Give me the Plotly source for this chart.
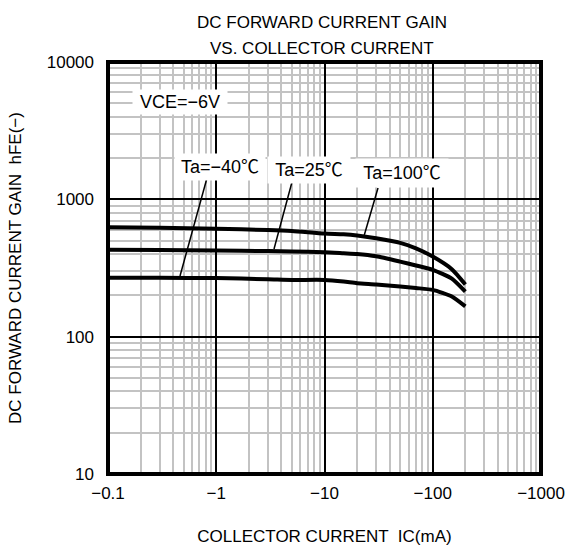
import plotly.graph_objects as go

# ---- data ----
ic_ma = [0.1, 0.3, 1, 3, 5, 10, 15, 20, 30, 50, 70, 100, 150, 200]
hfe_100 = [627, 620, 610, 598, 588, 563, 556, 545, 520, 482, 440, 383, 310, 240]
hfe_25 = [429, 427, 424, 420, 417, 412, 405, 400, 385, 352, 330, 307, 265, 213]
hfe_m40 = [269, 268, 267, 262, 259, 259, 252, 245, 240, 232, 226, 219, 196, 166]

x_tickvals = [0.1, 1, 10, 100, 1000]
x_ticktext = ["−0.1", "−1", "−10", "−100", "−1000"]
y_tickvals = [10, 100, 1000, 10000]
y_ticktext = ["10", "100", "1000", "10000"]

FONT = "Liberation Sans, Arial, Noto Sans CJK JP, sans-serif"

fig = go.Figure()
for ys in (hfe_100, hfe_25, hfe_m40):
    fig.add_trace(go.Scatter(x=ic_ma, y=ys, mode="lines",
                             line=dict(color="black", width=4, shape="spline", smoothing=0.6),
                             showlegend=False, hoverinfo="skip"))

x_minor = [m * 10 ** e for e in range(-1, 3) for m in range(2, 10)]
y_minor = [m * 10 ** e for e in range(1, 4) for m in range(2, 10)]

fig.update_xaxes(type="log", range=[-1, 3], tickvals=x_tickvals, ticktext=x_ticktext,
                 automargin=False,
                 showgrid=True, gridcolor="black", gridwidth=2,
                 minor=dict(tickvals=x_minor, showgrid=True, gridcolor="#c3c3c3", gridwidth=2, ticks=""),
                 showline=False,
                 ticks="", ticklabelstandoff=7, zeroline=False,
                 tickfont=dict(size=17, color="black", family=FONT),
                 title=dict(text="COLLECTOR CURRENT  IC(mA)", standoff=28,
                            font=dict(size=17, color="black", family=FONT)))
fig.update_yaxes(type="log", range=[1, 4], tickvals=y_tickvals, ticktext=y_ticktext,
                 automargin=False,
                 showgrid=True, gridcolor="black", gridwidth=2,
                 minor=dict(tickvals=y_minor, showgrid=True, gridcolor="#c3c3c3", gridwidth=2, ticks=""),
                 showline=False,
                 ticks="", ticklabelstandoff=13, zeroline=False,
                 tickfont=dict(size=17, color="black", family=FONT),
                 title=dict(text="DC FORWARD CURRENT GAIN  hFE(−)", standoff=20,
                            font=dict(size=17, color="black", family=FONT)))

# plot frame, centred on the plot-area edges
fig.add_shape(type="rect", xref="paper", yref="paper", x0=0, y0=0, x1=1, y1=1,
              line=dict(color="black", width=4), layer="above")

def px(x):
    return (x - 108) / 433.0

def py(y):
    return (474 - y) / 412.0

# pointer lines for the temperature labels
pointers = [((207, 178), (180, 276)), ((292, 182), (274, 249)), ((378, 188), (364, 236))]
for (x0, y0), (x1, y1) in pointers:
    fig.add_shape(type="line", xref="paper", yref="paper",
                  x0=px(x0), y0=py(y0), x1=px(x1), y1=py(y1),
                  line=dict(color="black", width=1.5))

labels = [("VCE=−6V", 180, 102, 92, 22),
          ("Ta=−40℃", 220, 167, 88, 24),
          ("Ta=25℃", 309, 170, 80, 24),
          ("Ta=100℃", 402, 173, 90, 26)]
for txt, x, y, w, h in labels:
    fig.add_annotation(text=txt, xref="paper", yref="paper", x=px(x), y=py(y),
                       xanchor="center", yanchor="middle", showarrow=False,
                       width=w, height=h, bgcolor="white",
                       font=dict(size=18, color="black", family=FONT))

# two-line chart title
title_lines = [("DC FORWARD CURRENT GAIN", 23), ("VS. COLLECTOR CURRENT", 48)]
for txt, y in title_lines:
    fig.add_annotation(text=txt, xref="paper", yref="paper", x=px(322), y=py(y),
                       xanchor="center", yanchor="middle", showarrow=False,
                       font=dict(size=17, color="black", family=FONT))

fig.update_layout(
    width=565, height=548,
    margin=dict(l=108, r=24, t=62, b=74),
    paper_bgcolor="white", plot_bgcolor="white",
)

fig.write_html("out.html", config={"displayModeBar": False},
               post_script="document.body.style.margin='0';")
